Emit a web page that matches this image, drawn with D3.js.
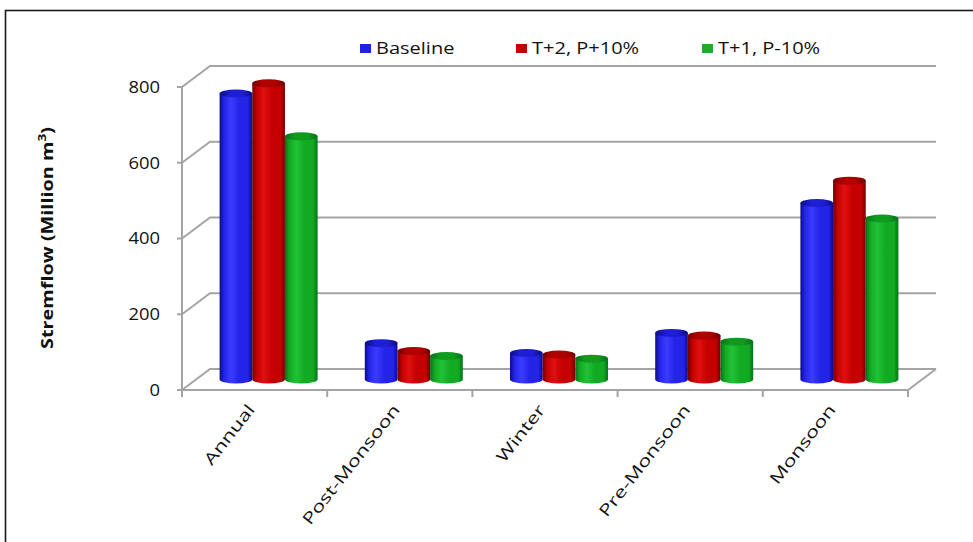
<!DOCTYPE html>
<html>
<head>
<meta charset="utf-8">
<script src="https://cdn.jsdelivr.net/npm/d3@7"></script>
<style>
  body { margin: 0; background: #fff; }
  svg { display: block; }
  text { font-family: "Open Sans", "DejaVu Sans", sans-serif; fill: #111; }
</style>
</head>
<body>
<svg id="chart" width="973" height="542"></svg>
<script>
// Seasonal streamflow under three climate scenarios (Million m³)
const categories = ["Annual", "Post-Monsoon", "Winter", "Pre-Monsoon", "Monsoon"];
const seriesNames = ["Baseline", "T+2, P+10%", "T+1, P-10%"];
const baselineFlow = [755, 96, 70, 123, 466];
const warmWetFlow  = [782, 75, 66, 116, 525];
const warmDryFlow  = [642, 62, 55, 100, 425];
const yTicks = [0, 200, 400, 600, 800];

const seriesValues = [baselineFlow, warmWetFlow, warmDryFlow];

// Colour ramps for the cylinders: [dark edge, body, highlight, cap]
const palette = [
  { edge: "#0c0c86", body: "#2424e8", light: "#3c3cff", cap: "#1e1ed2", key: "#2020e6" },
  { edge: "#6e0000", body: "#c40000", light: "#e01010", cap: "#b00000", key: "#c00000" },
  { edge: "#07701a", body: "#12aa22", light: "#22c236", cap: "#0f9c1e", key: "#22aa2e" }
];

const svg = d3.select("#chart");
const W = 973, H = 542;

// 3-D box geometry: front plane plus a receding depth offset
const front = { left: 182, right: 908, bottom: 390, top: 87 };
const depth = { dx: 28, dy: -21 };
const textStretch = 1.15;
const legendStretch = 1.25;
const gridColor = "#a4a4a4";

const y = d3.scaleLinear().domain([0, 800]).range([front.bottom, front.top]);
const x0 = d3.scaleBand().domain(categories)
  .range([front.left, front.right])
  .paddingInner(0.325).paddingOuter(0.1625);
const x1 = d3.scaleBand().domain(seriesNames).range([0, x0.bandwidth()]);

// Outer frame
svg.append("rect").attr("x", 5.5).attr("y", 10.5)
  .attr("width", W + 20).attr("height", H + 20)
  .attr("fill", "#fff").attr("stroke", "#1a1a1a").attr("stroke-width", 1.6);

// Gradients
const defs = svg.append("defs");
palette.forEach((p, i) => {
  const g = defs.append("linearGradient").attr("id", "body" + i)
    .attr("x1", "0%").attr("x2", "100%").attr("y1", "0%").attr("y2", "0%");
  [[0, p.edge], [0.14, p.body], [0.35, p.light], [0.6, p.body], [0.86, p.body], [1, p.edge]]
    .forEach(([o, c]) => g.append("stop").attr("offset", o).attr("stop-color", c));
  const c = defs.append("linearGradient").attr("id", "cap" + i)
    .attr("x1", "0%").attr("x2", "100%").attr("y1", "0%").attr("y2", "0%");
  [[0, p.edge], [0.3, p.cap], [0.7, p.cap], [1, p.edge]]
    .forEach(([o, col]) => c.append("stop").attr("offset", o).attr("stop-color", col));
});

// Back wall and side wall gridlines
const grid = svg.append("g").attr("fill", "none").attr("stroke", gridColor).attr("stroke-width", 2);
yTicks.forEach(t => {
  const yf = y(t);
  grid.append("polyline").attr("points", [
    [front.left, yf],
    [front.left + depth.dx, yf + depth.dy],
    [front.right + depth.dx, yf + depth.dy]
  ].map(p => p.join(",")).join(" "));
});

// Floor edges
grid.append("polyline").attr("points", [
  [front.left, y(0)], [front.right, y(0)], [front.right + depth.dx, y(0) + depth.dy]
].map(p => p.join(",")).join(" "));

// Value axis line and ticks
grid.append("line").attr("x1", front.left).attr("x2", front.left)
  .attr("y1", y(0)).attr("y2", y(800));
yTicks.forEach(t => {
  grid.append("line").attr("x1", front.left - 5).attr("x2", front.left)
    .attr("y1", y(t)).attr("y2", y(t));
});

// Category tick marks along the front floor edge
const bounds = categories.map(c => x0(c) - x0.step() * x0.paddingInner() / 2)
  .concat([front.right]);
bounds.forEach(bx => {
  grid.append("line").attr("x1", bx).attr("x2", bx)
    .attr("y1", y(0)).attr("y2", y(0) + 7);
});

// Value tick labels
svg.append("g").selectAll("text").data(yTicks).join("text")
  .attr("transform", d => `translate(160,${y(d)}) scale(${textStretch},1)`)
  .attr("text-anchor", "end").attr("dy", "0.36em")
  .style("font-size", "16px")
  .text(d => d);

// Axis title
const title = svg.append("text")
  .attr("transform", `translate(47,238) rotate(-90) scale(1.24,1)`)
  .attr("text-anchor", "middle").attr("dy", "0.36em")
  .style("font-size", "16px").style("font-weight", "bold");
title.append("tspan").text("Stremflow (Million m");
title.append("tspan").attr("baseline-shift", "super").style("font-size", "11px").text("3");
title.append("tspan").text(")");

// Category labels
svg.append("g").selectAll("text").data(categories).join("text")
  .attr("transform", d => `translate(${x0(d) + x0.bandwidth() / 2 + 1},${y(0) + 20}) rotate(-52) scale(1.36,1)`)
  .attr("text-anchor", "end")
  .style("font-size", "16px")
  .text(d => d);

// Cylinders
const ry = 4;
const bars = svg.append("g");
categories.forEach((cat, ci) => {
  seriesNames.forEach((s, si) => {
    const v = seriesValues[si][ci];
    const rx = x1.bandwidth() / 2;
    const cx = x0(cat) + x1(s) + rx + depth.dx / 2;
    const yTop = y(v) + depth.dy / 2;
    const yBot = y(0) + depth.dy / 2;
    bars.append("path")
      .attr("d", `M${cx - rx},${yTop} L${cx - rx},${yBot} A${rx},${ry} 0 0 0 ${cx + rx},${yBot} L${cx + rx},${yTop} Z`)
      .attr("fill", `url(#body${si})`);
    bars.append("ellipse")
      .attr("cx", cx).attr("cy", yTop).attr("rx", rx).attr("ry", ry)
      .attr("fill", `url(#cap${si})`);
  });
});

// Legend
const legendX = [360, 516, 702];
const legend = svg.append("g");
seriesNames.forEach((s, i) => {
  legend.append("rect").attr("x", legendX[i]).attr("y", 44)
    .attr("width", 11).attr("height", 9).attr("fill", palette[i].key);
  legend.append("text")
    .attr("transform", `translate(${legendX[i] + 16},48.5) scale(${legendStretch},1)`)
    .attr("dy", "0.36em").style("font-size", "16px")
    .text(s);
});
</script>
</body>
</html>
